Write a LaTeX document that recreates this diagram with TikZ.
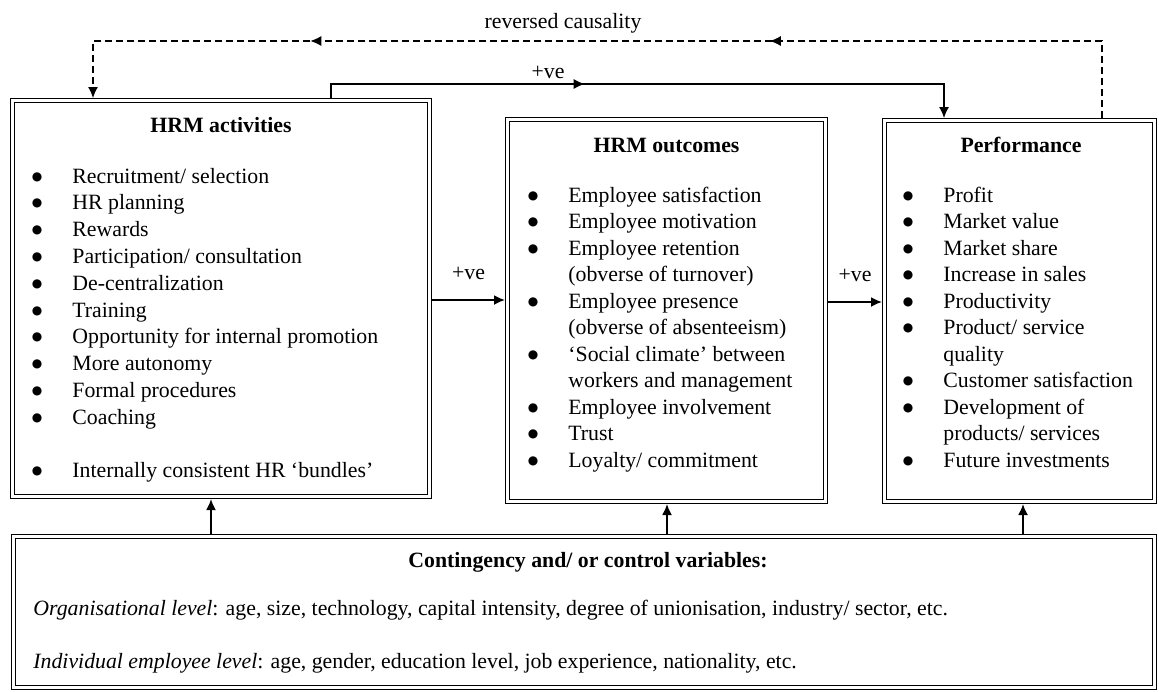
\documentclass[tikz,border=0pt]{standalone}
\usepackage{fontspec}
\setmainfont{Liberation Serif}
\newfontfamily\dotfont{DejaVu Sans}
\usepackage{tikz}
\usetikzlibrary{arrows.meta,calc,decorations.markings,fit,positioning}

\newcommand{\bul}{\llap{\raisebox{1.5pt}{\dotfont\fontsize{6}{6}\selectfont ●}\hspace{15pt}}}

\tikzset{
  box/.style={draw,double,line width=0.6pt,double distance=1.4pt,inner sep=0pt,outer sep=1.3pt},
  hd/.style={anchor=base,inner sep=0pt,font=\fontsize{10.9}{13}\selectfont\bfseries},
  ln/.style={anchor=base west,inner sep=0pt},
  endtip/.style={-{Latex[length=5.5pt,width=5pt]}},
  arr/.style={endtip,line width=0.9pt},
  midtip/.style={postaction={decorate},decoration={markings,
    mark=at position #1 with {\arrow{Latex[length=5.5pt,width=5pt]}}}},
  midtips/.style 2 args={postaction={decorate},decoration={markings,
    mark=at position #1 with {\arrow{Latex[length=5.5pt,width=5pt]}},
    mark=at position #2 with {\arrow{Latex[length=5.5pt,width=5pt]}}}}
}

\begin{document}
\begin{tikzpicture}[x=0.5pt,y=-0.5pt,font=\fontsize{10.9}{13}\selectfont]
\useasboundingbox (0,0) rectangle (1159,691);

% the four boxes
\node[box,fit={(12.6,100.6) (429.4,496.4)}] (act) {};
\node[box,fit={(507.6,119.6) (825.4,501.4)}] (out) {};
\node[box,fit={(884.6,120.6) (1154.4,501.4)}] (perf) {};
\node[box,fit={(13.6,536.6) (1154.4,687.4)}] (ctrl) {};

% titles
\node[hd] (actT) at (221,132) {HRM activities};
\node[hd] (outT) at (666.5,152) {HRM outcomes};
\node[hd] (perfT) at (1021,152) {Performance};
\node[hd] (ctrlT) at (588,567) {Contingency and/ or control variables:};

% lists
\foreach \t [count=\i from 0] in {\bul Recruitment/ selection, \bul HR planning, \bul Rewards,
  \bul Participation/ consultation, \bul De-centralization, \bul Training,
  \bul Opportunity for internal promotion, \bul More autonomy, \bul Formal procedures,
  \bul Coaching, {}, \bul Internally consistent HR `bundles'}
  \node[ln] (act\i) at (72,183+26.8*\i) {\t};
\foreach \t [count=\i from 0] in {\bul Employee satisfaction, \bul Employee motivation,
  \bul Employee retention, (obverse of turnover), \bul Employee presence,
  (obverse of absenteeism), \bul `Social climate' between, workers and management,
  \bul Employee involvement, \bul Trust, \bul Loyalty/ commitment}
  \node[ln] (out\i) at (568,202+26.5*\i) {\t};
\foreach \t [count=\i from 0] in {\bul Profit, \bul Market value, \bul Market share,
  \bul Increase in sales, \bul Productivity, \bul Product/ service, quality,
  \bul Customer satisfaction, \bul Development of, products/ services,
  \bul Future investments}
  \node[ln] (perf\i) at (943,202+26.5*\i) {\t};

\node[ln] (org) at (33,615) {\textit{Organisational level}: age, size, technology, capital intensity, degree of unionisation, industry/ sector, etc.};
\node[ln] (ind) at (33,668) {\textit{Individual employee level}: age, gender, education level, job experience, nationality, etc.};

% reversed causality
\coordinate (rcR) at (1102,41);
\coordinate (rcL) at (93,41);
\draw[dash pattern=on 3.5pt off 2pt,line width=0.6pt,endtip,midtips={0.358}{0.76}]
  (rcR |- perf.north) -- (rcR) -- (rcL) -- (rcL |- act.north);
\node[anchor=base] (rev) at (563,28) {reversed causality};

% direct link activities -> performance
\coordinate (pvL) at (331,84);
\coordinate (pvR) at (944,84);
\draw[line width=0.6pt,endtip,midtip=0.405]
  (pvL |- act.north) -- (pvL) -- node[pos=0.354,above=-1pt] (pv0) {+ve} (pvR) -- (pvR |- perf.north);

% main chain
\coordinate (lvA) at (0,300);
\coordinate (lvB) at (0,302);
\draw[arr] (act.east |- lvA) -- node[above=6.5pt] (pv1) {+ve} (out.west |- lvA);
\draw[arr] (out.east |- lvB) -- node[above=6.5pt] (pv2) {+ve} (perf.west |- lvB);

% contingencies
\coordinate (ua) at (211,0);
\coordinate (uo) at (667,0);
\coordinate (up) at (1023,0);
\draw[arr] (ua |- ctrl.north) -- (ua |- act.south);
\draw[arr] (uo |- ctrl.north) -- (uo |- out.south);
\draw[arr] (up |- ctrl.north) -- (up |- perf.south);
\end{tikzpicture}
\end{document}
